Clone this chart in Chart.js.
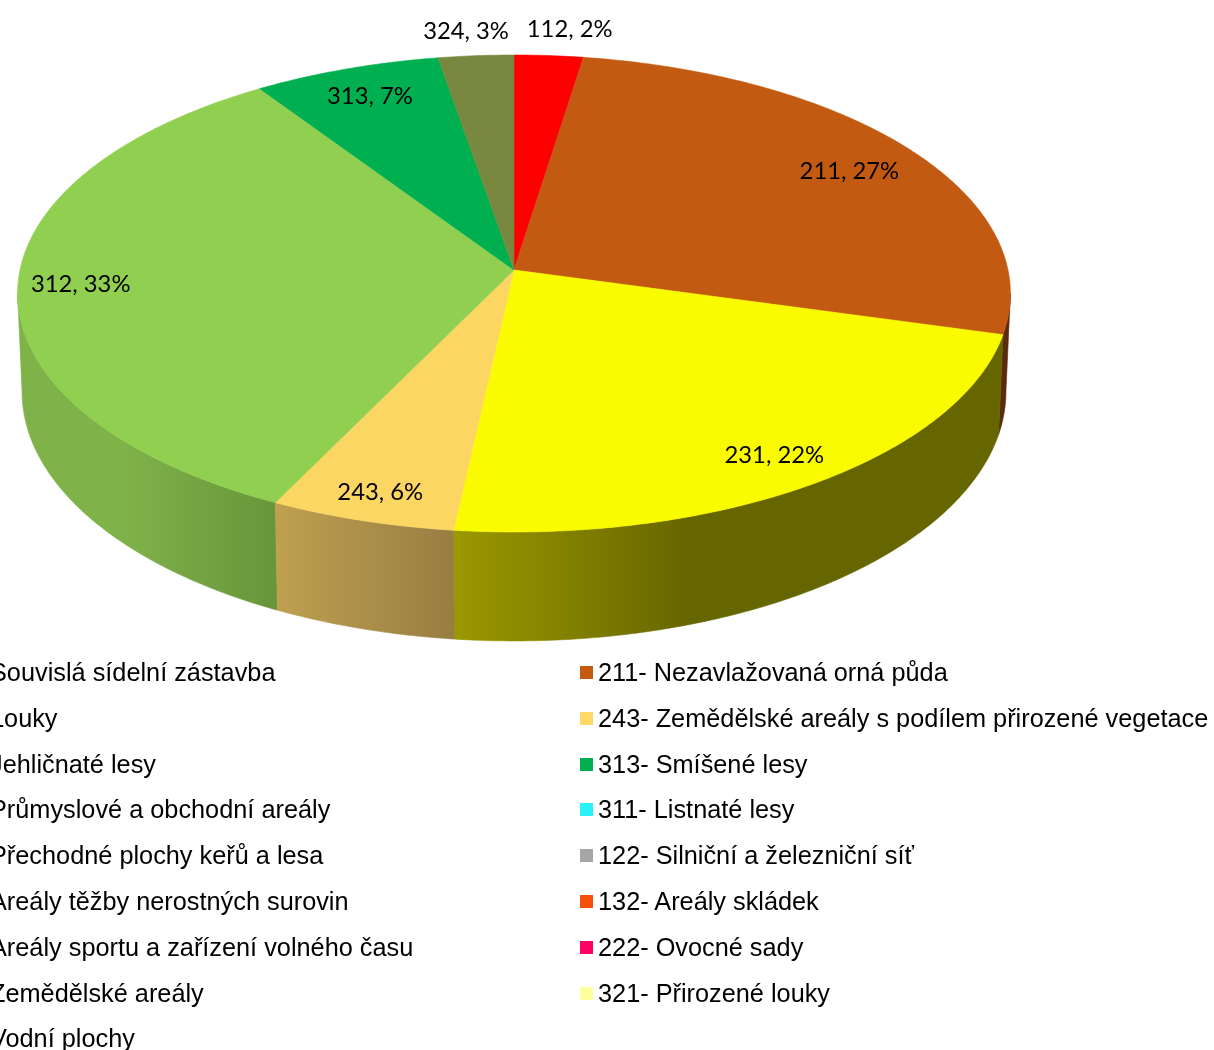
<!DOCTYPE html>
<html lang="cs">
<head>
<meta charset="utf-8">
<title>Land cover pie</title>
<script src="https://cdn.jsdelivr.net/npm/chart.js@4"></script>
<style>
  html, body { margin: 0; padding: 0; background: #fff; overflow: hidden; }
  #wrap { position: relative; width: 1214px; height: 1050px; overflow: hidden; }
  #pie { position: absolute; left: 0; top: 0; }
  .item {
    position: absolute; white-space: nowrap; color: #000;
    font: 25.3px "Liberation Sans", Arial, sans-serif; line-height: 30px;
  }
  .swatch { position: absolute; width: 13px; height: 13px; }
</style>
</head>
<body>
<div id="wrap">
  <canvas id="pie" width="1214" height="1050"></canvas>
</div>
<script>
// Pie data
const sliceCodes = ["112", "211", "231", "243", "312", "313", "324"];
const sliceValues = [2.47, 26.83, 22.47, 5.5, 33.35, 6.7, 2.7];
const sliceColors = ["#ff0000", "#c25a11", "#fbfb00", "#fcd663", "#90cf50", "#00af50", "#78883f"];

// Legend, the left column is cut off by the page edge like in the source picture
const legendLeft = [
  "Souvislá sídelní zástavba",
  "Louky",
  "Jehličnaté lesy",
  "Průmyslové a obchodní areály",
  "Přechodné plochy keřů a lesa",
  "Areály těžby nerostných surovin",
  "Areály sportu a zařízení volného času",
  "Zemědělské areály",
  "Vodní plochy",
];
const legendRight = [
  "211- Nezavlažovaná orná půda",
  "243- Zemědělské areály s podílem přirozené vegetace",
  "313- Smíšené lesy",
  "311- Listnaté lesy",
  "122- Silniční a železniční síť",
  "132- Areály skládek",
  "222- Ovocné sady",
  "321- Přirozené louky",
];
const legendRightColors = ["#c55a11", "#ffd966", "#00b050", "#2af0f8", "#a6a6a6", "#f4500a", "#ff0066", "#ffffa0"];

// Side wall shading per slice, left to right
const wallStops = {
  "211": [[0, "#5a2a0a"], [1, "#5a2a0a"]],
  "231": [[0, "#9c9800"], [0.43, "#666600"], [1, "#666600"]],
  "243": [[0, "#bfa050"], [1, "#987d42"]],
  "312": [[0, "#80b24a"], [0.4, "#80b24a"], [1, "#67953a"]],
};

// Where the label sits inside its slice
const labelAlong = [0.71, 0.513, 0.5025, 0.489, 0.4985, 0.507, 0.436];
const labelRadius = [1.14, 0.831, 0.877, 0.898, 0.874, 0.854, 1.129];

// Perspective of the disc: k bends the circle, top and bottom rim have own scale
const k = -0.0985;
const topRim = { apex: 270, spread: 1, tilt: 0.4781 };
const bottomRim = { apex: 367, spread: 0.991, tilt: 0.4999 };

function project(arc, rim, angle, r) {
  const u = r * Math.cos(angle);
  const v = r * Math.sin(angle);
  const w = 1 / (1 + k * v);
  const R = arc.outerRadius;
  return [arc.x + R * rim.spread * u * w, rim.apex + R * rim.tilt * v * w];
}

function rimPoints(arc, rim, from, to) {
  const steps = Math.max(2, Math.ceil(Math.abs(to - from) / 0.01));
  const pts = [];
  for (let i = 0; i <= steps; i++) {
    pts.push(project(arc, rim, from + ((to - from) * i) / steps, 1));
  }
  return pts;
}

function fillPath(ctx, pts, fill) {
  ctx.beginPath();
  pts.forEach((p, i) => (i ? ctx.lineTo(p[0], p[1]) : ctx.moveTo(p[0], p[1])));
  ctx.closePath();
  ctx.fillStyle = fill;
  ctx.fill();
  ctx.strokeStyle = fill;
  ctx.lineWidth = 0.6;
  ctx.stroke();
}

const pie3d = {
  id: "pie3d",
  beforeDatasetDraw(chart) {
    const ctx = chart.ctx;
    const arcs = chart.getDatasetMeta(0).data;
    // widest point of the rim, the wall outline leaves the disc here
    const edge = Math.asin(-k);
    ctx.save();

    // walls first, the faces cover whatever is behind them
    ["211", "312", "231", "243"].forEach((code) => {
      const arc = arcs[sliceCodes.indexOf(code)];
      const from = Math.max(arc.startAngle, edge);
      const to = Math.min(arc.endAngle, Math.PI - edge);
      const upper = rimPoints(arc, topRim, from, to);
      const lower = rimPoints(arc, bottomRim, to, from);
      const xs = upper.concat(lower).map((p) => p[0]);
      const grad = ctx.createLinearGradient(Math.min(...xs), 0, Math.max(...xs), 0);
      wallStops[code].forEach((s) => grad.addColorStop(s[0], s[1]));
      fillPath(ctx, upper.concat(lower), grad);
    });

    arcs.forEach((arc) => {
      const pts = [[arc.x, topRim.apex]].concat(rimPoints(arc, topRim, arc.startAngle, arc.endAngle));
      fillPath(ctx, pts, arc.options.backgroundColor);
    });

    ctx.fillStyle = "#000";
    ctx.font = "23.8px Lato, sans-serif";
    ctx.textAlign = "center";
    ctx.textBaseline = "middle";
    arcs.forEach((arc, i) => {
      const angle = arc.startAngle + (arc.endAngle - arc.startAngle) * labelAlong[i];
      const p = project(arc, topRim, angle, labelRadius[i]);
      ctx.fillText(sliceCodes[i] + ", " + Math.round(sliceValues[i]) + "%", p[0], p[1]);
    });

    ctx.restore();
    return false;
  },
};

new Chart(document.getElementById("pie").getContext("2d"), {
  type: "pie",
  data: {
    labels: sliceCodes,
    datasets: [{ data: sliceValues, backgroundColor: sliceColors, borderWidth: 0 }],
  },
  options: {
    responsive: false,
    animation: false,
    layout: { padding: { left: 20, right: 206, top: 0, bottom: 62 } },
    plugins: { legend: { display: false }, tooltip: { enabled: false } },
  },
  plugins: [pie3d],
});

// Legend rows
const wrap = document.getElementById("wrap");
function addRow(text, x, row) {
  const el = document.createElement("div");
  el.className = "item";
  el.textContent = text;
  el.style.left = x + "px";
  el.style.top = 672 + row * 45.8 - 15 + "px";
  wrap.appendChild(el);
}
legendLeft.forEach((t, i) => addRow(t, -10, i));
legendRight.forEach((t, i) => {
  addRow(t, 598, i);
  const sw = document.createElement("div");
  sw.className = "swatch";
  sw.style.left = "580px";
  sw.style.top = 672 + i * 45.8 - 6 + "px";
  sw.style.background = legendRightColors[i];
  wrap.appendChild(sw);
});
</script>
</body>
</html>
